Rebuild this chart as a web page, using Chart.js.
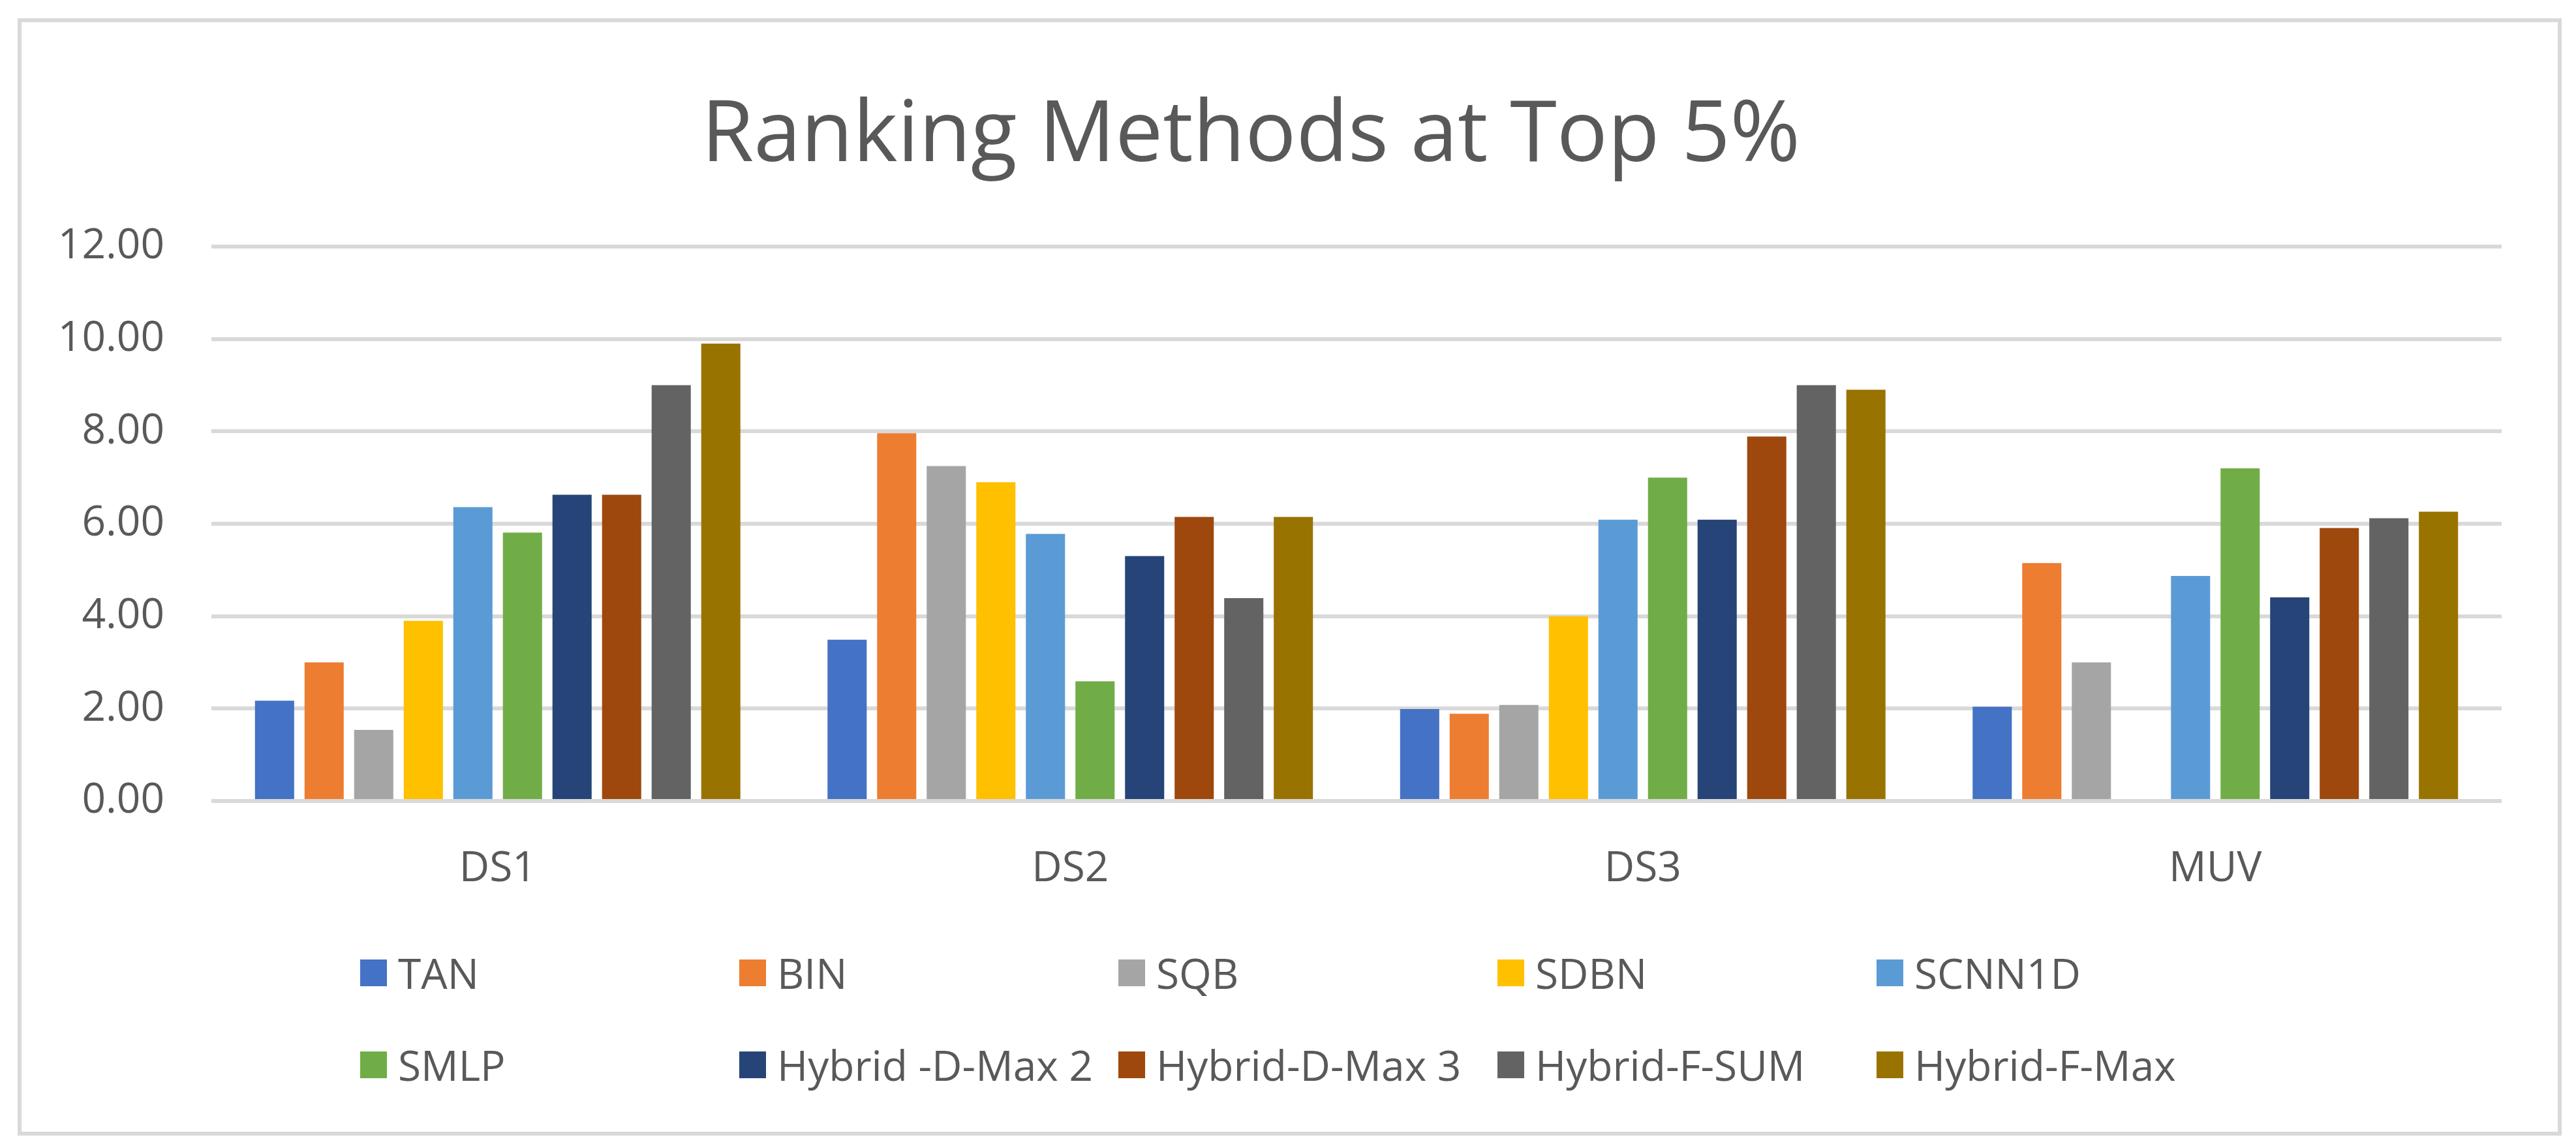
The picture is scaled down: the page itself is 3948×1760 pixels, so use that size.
<!DOCTYPE html>
<html>
<head>
<meta charset="utf-8">
<script src="https://cdn.jsdelivr.net/npm/chart.js@4"></script>
<style>
    html, body { margin: 0; padding: 0; background: #fff; }
    #wrap { position: relative; width: 3948px; height: 1760px; overflow: hidden; }
    #frame { position: absolute; left: 27px; top: 28px; width: 3899px; height: 1713px; box-sizing: border-box; border: 6px solid #d9d9d9; }
    #chart { position: absolute; left: 0; top: 0; }
    .legend-item { position: absolute; height: 60px; display: flex; align-items: center; font-family: "Open Sans", sans-serif; font-size: 64px; color: #595959; white-space: nowrap; }
    .legend-item span.box { display: inline-block; width: 41px; height: 41px; margin-right: 17px; }
</style>
</head>
<body>
<div id="wrap">
    <div id="frame"></div>
    <canvas id="chart" width="3948" height="1760"></canvas>
    <div id="legend"></div>
</div>
<script>
// categories and series
const categories = ["DS1", "DS2", "DS3", "MUV"];
const seriesNames = ["TAN", "BIN", "SQB", "SDBN", "SCNN1D", "SMLP", "Hybrid -D-Max 2", "Hybrid-D-Max 3", "Hybrid-F-SUM", "Hybrid-F-Max"];
const seriesColors = ["#4472C4", "#ED7D31", "#A5A5A5", "#FFC000", "#5B9BD5", "#70AD47", "#264478", "#9E480E", "#636363", "#997300"];

const tanValues = [2.17, 3.49, 1.99, 2.04];
const binValues = [3.00, 7.96, 1.89, 5.15];
const sqbValues = [1.54, 7.25, 2.08, 3.00];
const sdbnValues = [3.90, 6.90, 4.00, null];
const scnn1dValues = [6.36, 5.78, 6.09, 4.87];
const smlpValues = [5.81, 2.59, 7.00, 7.20];
const hybridDMax2Values = [6.63, 5.30, 6.09, 4.41];
const hybridDMax3Values = [6.63, 6.15, 7.89, 5.91];
const hybridFSumValues = [9.00, 4.39, 9.00, 6.12];
const hybridFMaxValues = [9.90, 6.15, 8.90, 6.26];

const seriesValues = [tanValues, binValues, sqbValues, sdbnValues, scnn1dValues, smlpValues,
    hybridDMax2Values, hybridDMax3Values, hybridFSumValues, hybridFMaxValues];

const yTickMin = 0;
const yTickMax = 12;
const yTickStep = 2;

const textColor = "#595959";
const gridColor = "#d9d9d9";
const fontFamily = "'Open Sans', sans-serif";

const datasets = seriesNames.map((name, i) => ({
    label: name,
    data: seriesValues[i],
    backgroundColor: seriesColors[i],
    borderWidth: 0,
    categoryPercentage: 0.866,
    barPercentage: 0.79,
}));

const ctx = document.getElementById("chart").getContext("2d");
new Chart(ctx, {
    type: "bar",
    data: { labels: categories, datasets: datasets },
    options: {
        responsive: false,
        animation: false,
        devicePixelRatio: 1,
        layout: { padding: { left: 0, right: 114, top: 0, bottom: 0 } },
        plugins: {
            legend: { display: false },
            tooltip: { enabled: false },
            title: {
                display: true,
                text: "Ranking Methods at Top 5%",
                color: textColor,
                font: { family: fontFamily, size: 130, weight: "normal", lineHeight: 1.2 },
                padding: { top: 132, bottom: 90 },
            },
        },
        scales: {
            x: {
                grid: { display: false },
                border: { display: false },
                ticks: { color: textColor, font: { family: fontFamily, size: 64 }, padding: 58 },
                afterFit: (scale) => { scale.height = 532; },
            },
            y: {
                min: yTickMin,
                max: yTickMax,
                grid: { color: gridColor, lineWidth: 6, drawTicks: false },
                border: { display: false },
                ticks: {
                    stepSize: yTickStep,
                    color: textColor,
                    font: { family: fontFamily, size: 64 },
                    padding: 72,
                    callback: (v) => Number(v).toFixed(2),
                },
                afterFit: (scale) => { scale.width = 324; },
            },
        },
    },
});

// legend laid out in fixed columns like the original
const legendEl = document.getElementById("legend");
const legendColumns = 5;
seriesNames.forEach((name, i) => {
    const item = document.createElement("div");
    item.className = "legend-item";
    item.style.left = (552 + (i % legendColumns) * 581) + "px";
    item.style.top = (1461 + Math.floor(i / legendColumns) * 141) + "px";
    const box = document.createElement("span");
    box.className = "box";
    box.style.background = seriesColors[i];
    item.appendChild(box);
    item.appendChild(document.createTextNode(name));
    legendEl.appendChild(item);
});
</script>
</body>
</html>
